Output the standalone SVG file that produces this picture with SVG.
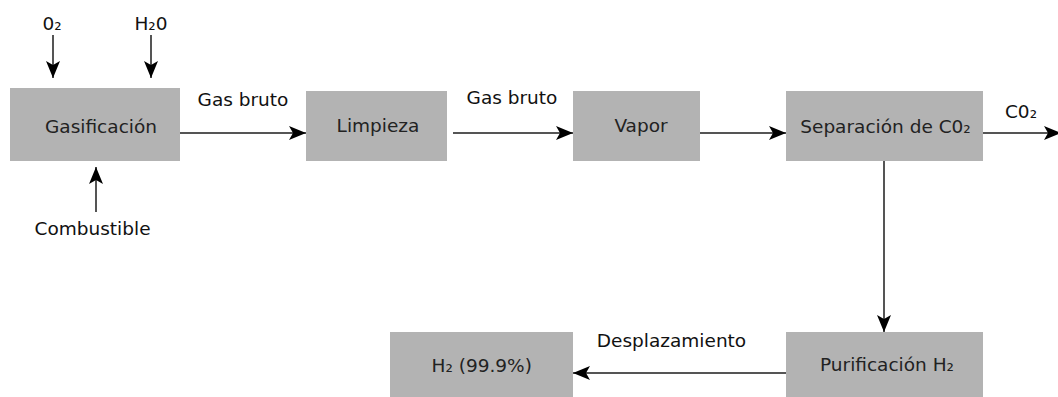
<svg xmlns="http://www.w3.org/2000/svg" width="1058" height="397" viewBox="0 0 1058 397">
<style>
.box{fill:#b3b3b3}
.t{font-family:"DejaVu Sans",sans-serif;font-size:18.5px;text-anchor:middle;fill:#222}
.l{font-family:"DejaVu Sans",sans-serif;font-size:18.5px;text-anchor:middle;fill:#111}
.c{stroke:#555;stroke-width:2;fill:none;marker-end:url(#ah)}
</style>
<defs>
<marker id="ah" viewBox="-18 -8 19 16" refX="0" refY="0" markerWidth="19" markerHeight="16" orient="auto" markerUnits="userSpaceOnUse">
<path d="M0,0 L-17,-7 L-13,0 L-17,7 Z" fill="#000"/>
</marker>
</defs>
<rect width="1058" height="397" fill="#fff"/>
<g id="connectors">
<line class="c" x1="53" y1="35" x2="53" y2="78"/>
<line class="c" x1="151" y1="35" x2="151" y2="78"/>
<line class="c" x1="96" y1="212" x2="96" y2="167"/>
<line class="c" x1="180" y1="133" x2="306" y2="133"/>
<line class="c" x1="453" y1="133" x2="573" y2="133"/>
<line class="c" x1="700" y1="133" x2="786" y2="133"/>
<line class="c" x1="983" y1="133" x2="1061" y2="133"/>
<line class="c" x1="884" y1="161" x2="884" y2="332"/>
<line class="c" x1="786" y1="373" x2="573" y2="373"/>
<text class="l" x="52" y="30">0₂</text>
<text class="l" x="151" y="30">H₂0</text>
<text class="l" x="92.5" y="235">Combustible</text>
<text class="l" x="243" y="106">Gas bruto</text>
<text class="l" x="512" y="104">Gas bruto</text>
<text class="l" x="1021" y="118">C0₂</text>
<text class="l" x="671.5" y="347">Desplazamiento</text>
</g>
<g id="gasificacion">
<rect class="box" x="10" y="88" width="170" height="73"/>
<text class="t" x="101" y="133">Gasificación</text>
</g>
<g id="limpieza">
<rect class="box" x="306" y="91" width="141" height="70"/>
<text class="t" x="378" y="132">Limpieza</text>
</g>
<g id="vapor">
<rect class="box" x="573" y="91" width="127" height="70"/>
<text class="t" x="641" y="132">Vapor</text>
</g>
<g id="separacion">
<rect class="box" x="786" y="91" width="197" height="70"/>
<text class="t" x="885.5" y="132.5">Separación de C0₂</text>
</g>
<g id="purificacion">
<rect class="box" x="786" y="332" width="197" height="66"/>
<text class="t" x="887" y="371">Purificación H₂</text>
</g>
<g id="h2">
<rect class="box" x="390" y="332" width="183" height="66"/>
<text class="t" x="481.7" y="372">H₂ (99.9%)</text>
</g>
</svg>
